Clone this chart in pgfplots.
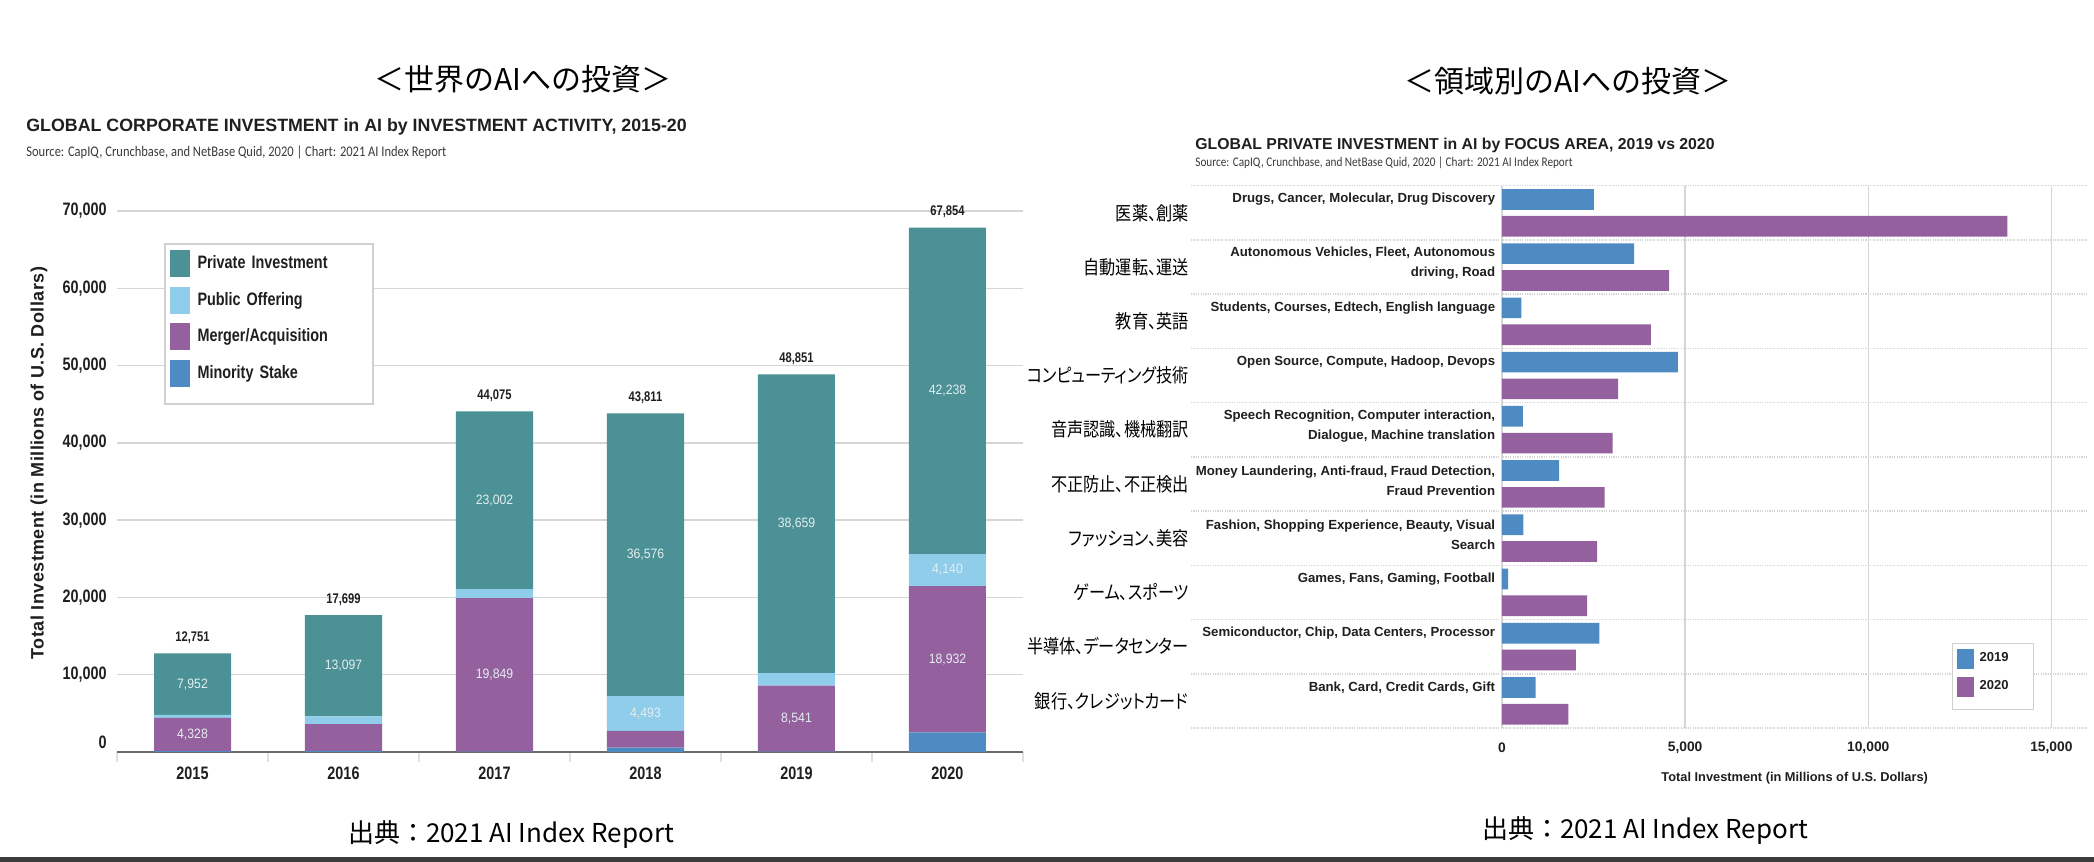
\documentclass[border=0pt]{standalone}
\usepackage{fontspec}
\usepackage{pgfplots}
\pgfplotsset{compat=1.18}

\setmainfont{Liberation Sans}
\newfontfamily\cond[FakeStretch=0.8]{Liberation Sans}
\newfontfamily\condi[FakeStretch=0.9]{Liberation Sans}
\newfontfamily\wide[LetterSpace=2.5]{Liberation Sans}
\newfontfamily\carl[FakeStretch=0.85]{Carlito}
\newfontfamily\jp{Noto Sans CJK JP}
\newfontfamily\jpc[RawFeature=+palt,FakeStretch=0.85]{Noto Sans CJK JP}
\newcommand{\fsz}[2]{\fontsize{#1}{#2}\selectfont}

\definecolor{privcol}{HTML}{4B9195}
\definecolor{pubcol}{HTML}{8FCDEA}
\definecolor{macol}{HTML}{94609E}
\definecolor{minocol}{HTML}{4F8BC3}
\definecolor{gridcol}{HTML}{D6D6D6}
\definecolor{basecol}{HTML}{6A6A6A}
\definecolor{sepcol}{HTML}{E0E0E0}
\definecolor{textcol}{HTML}{1F1F1F}
\definecolor{subcol}{HTML}{3A3A3A}
\definecolor{inlab}{HTML}{E4EEF0}
\definecolor{legbord}{HTML}{D0D0D0}
\definecolor{rulecol}{HTML}{3C3C3C}

\pgfplotsset{
  leftimg/.style={legend image code/.code={\fill[##1] (0pt,-6.75pt) rectangle (10pt,6.75pt);}},
  leftimglast/.style={legend image code/.code={\fill[##1] (0pt,-6.75pt) rectangle (10pt,6.75pt); \path (0pt,-11.9pt);}},
  rightimg/.style={legend image code/.code={\fill[##1] (0pt,-5pt) rectangle (8.5pt,5pt);}},
  rightimglast/.style={legend image code/.code={\fill[##1] (0pt,-5pt) rectangle (8.5pt,5pt); \path (0pt,-9pt);}},
}

\begin{document}
\begin{tikzpicture}
\useasboundingbox (0,0) rectangle (1047pt,431pt);
\fill[white] (0,0) rectangle (1047pt,431pt);

% left: corporate investment by activity
\begin{axis}[
  at={(58.5pt,55pt)}, anchor=south west,
  scale only axis, width=453pt, height=270.5pt,
  ybar stacked, bar width=38.5pt,
  xmin=-0.5, xmax=5.5, ymin=0, ymax=70000,
  axis line style={draw=none},
  tick pos=left, tick align=outside,
  xtick={0,...,5}, xticklabels={2015,2016,2017,2018,2019,2020},
  minor xtick={-0.5,0.5,...,5.5},
  major tick length=0pt, minor tick length=5pt,
  minor tick style={draw=sepcol, line width=0.6pt},
  ytick={10000,20000,...,70000},
  ymajorgrids, major grid style={draw=gridcol, line width=0.7pt},
  extra y ticks={0},
  extra y tick style={grid=major, major grid style={draw=basecol, line width=1.2pt}, yticklabel style={yshift=5pt}},
  scaled y ticks=false,
  /pgf/number format/assume math mode=true,
  /pgf/number format/1000 sep={,},
  tick label style={font=\cond\bfseries\fsz{9}{9}, text=textcol},
  yticklabel style={anchor=east, inner sep=0pt, xshift=-5pt},
  xticklabel style={anchor=center, inner sep=0pt, yshift=-10.5pt},
  legend style={at={(0.0519,0.941)}, anchor=north west, draw=legbord, line width=0.9pt,
    font=\cond\bfseries\fsz{9}{9}, text=textcol,
    inner xsep=2.3pt, inner ysep=3.1pt, row sep=4.85pt, column sep=4pt,
    nodes={inner sep=0pt, text width=85.5pt}},
  legend cell align=left, reverse legend,
  leftimg,
]
\addplot[fill=minocol, draw=none, leftimglast]
  coordinates {(0,100) (1,150) (2,60) (3,560) (4,51) (5,2544)};
\addplot[fill=macol, draw=none]
  coordinates {(0,4328) (1,3460) (2,19849) (3,2182) (4,8541) (5,18932)};
\addplot[fill=pubcol, draw=none]
  coordinates {(0,371) (1,992) (2,1164) (3,4493) (4,1600) (5,4140)};
\addplot[fill=privcol, draw=none]
  coordinates {(0,7952) (1,13097) (2,23002) (3,36576) (4,38659) (5,42238)};
\legend{Minority Stake, Merger/Acquisition, Public Offering, Private Investment}
\end{axis}

% left: value labels
\begin{axis}[
  at={(58.5pt,55pt)}, anchor=south west,
  scale only axis, width=453pt, height=270.5pt,
  xmin=-0.5, xmax=5.5, ymin=0, ymax=70000, hide axis, clip=false]
\addplot[only marks, mark=*, mark size=0pt, mark options={draw=none, fill=none},
  point meta=explicit symbolic, nodes near coords,
  every node near coord/.append style={anchor=center, font=\condi\fsz{6.8}{6.8}, text=inlab}]
  coordinates {(0,2264)[4,328] (0,8775)[7,952] (1,11150)[13,097] (2,9985)[19,849]
    (2,32574)[23,002] (3,4989)[4,493] (3,25523)[36,576] (4,4322)[8,541]
    (4,29522)[38,659] (5,12010)[18,932] (5,23546)[4,140] (5,46735)[42,238]};
\addplot[only marks, mark=*, mark size=0pt, mark options={draw=none, fill=none},
  point meta=explicit symbolic, nodes near coords,
  every node near coord/.append style={anchor=center, yshift=7.8pt, font=\cond\bfseries\fsz{7}{7}, text=textcol}]
  coordinates {(0,12751)[12,751] (1,17699)[17,699] (2,44075)[44,075]
    (3,43811)[43,811] (4,48851)[48,851] (5,67854)[67,854]};
\end{axis}

% right: private investment by focus area
\begin{axis}[
  at={(595.5pt,67pt)}, anchor=south west,
  scale only axis, width=448.5pt, height=271.15pt,
  xbar, bar width=10.35pt, bar shift=0pt,
  xmin=-8490, xmax=16000, ymin=-0.5, ymax=9.5,
  axis line style={draw=none},
  tick pos=left, major tick length=0pt, minor tick length=0pt,
  xtick={0,5000,10000,15000}, scaled x ticks=false,
  /pgf/number format/assume math mode=true,
  /pgf/number format/1000 sep={,},
  xmajorgrids, x grid style={draw=gridcol, line width=0.7pt},
  ytick={0,...,9},
  yticklabels={銀行、クレジットカード, 半導体、データセンター, ゲーム、スポーツ, ファッション、美容,
    不正防止、不正検出, 音声認識、機械翻訳, コンピューティング技術, 教育、英語, 自動運転、運送, 医薬、創薬},
  minor ytick={-0.5,0.5,...,9.5}, yminorgrids,
  y grid style={draw=gridcol, dash pattern=on 0.6pt off 0.6pt, line width=0.8pt},
  xticklabel style={font=\bfseries\fsz{6.9}{6.9}, text=textcol, anchor=center, inner sep=0pt, yshift=-10pt},
  yticklabel style={font=\jpc\fsz{9.5}{9.5}, text=black, anchor=east, inner sep=0pt, xshift=-1pt},
  extra y ticks={9.25,8.065,7.25,6.25,5.065,4.065,3.065,2.25,1.25,0.25},
  extra y tick labels={{Drugs, Cancer, Molecular, Drug Discovery},
    {Autonomous Vehicles, Fleet, Autonomous\\driving, Road},
    {Students, Courses, Edtech, English language},
    {Open Source, Compute, Hadoop, Devops},
    {Speech Recognition, Computer interaction,\\Dialogue, Machine translation},
    {Money Laundering, Anti-fraud, Fraud Detection,\\Fraud Prevention},
    {Fashion, Shopping Experience, Beauty, Visual\\Search},
    {Games, Fans, Gaming, Football},
    {Semiconductor, Chip, Data Centers, Processor},
    {Bank, Card, Credit Cards, Gift}},
  extra y tick style={grid=none, yticklabel style={font=\bfseries\fsz{6.6}{10}, text=textcol, align=right, xshift=153.25pt}},
  xlabel={Total Investment (in Millions of U.S. Dollars)},
  xlabel style={at={(axis description cs:0.673,-0.092)}, anchor=center, font=\bfseries\fsz{6.4}{6.4}, text=textcol},
  legend style={at={(0.8484,0.1567)}, anchor=north west, draw=legbord, line width=0.7pt,
    font=\bfseries\fsz{6.5}{6.5}, text=textcol,
    inner xsep=2pt, inner ysep=2.5pt, row sep=4pt, column sep=3pt,
    nodes={inner sep=0pt, text width=25pt}},
  legend cell align=left,
  rightimg,
]
\addplot[fill=minocol, draw=none]
  coordinates {(2509,9.247) (3608,8.247) (531,7.247) (4799,6.247) (568,5.247)
    (1557,4.247) (586,3.247) (165,2.247) (2656,1.247) (916,0.247)};
\addplot[fill=macol, draw=none, rightimglast]
  coordinates {(13800,8.753) (4560,7.753) (4066,6.753) (3168,5.753) (3022,4.753)
    (2802,3.753) (2601,2.753) (2326,1.753) (2015,0.753) (1813,-0.247)};
\legend{2019, 2020}
\end{axis}

% titles, notes and rule, in pixel units of the reference
\begin{scope}[x=0.5pt, y=-0.5pt, yshift=431pt]
\node[font=\jp\fsz{15}{15}, text=black] at (523,79) {＜世界のAIへの投資＞};
\node[font=\jp\fsz{15}{15}, text=black] at (1568,81) {＜領域別のAIへの投資＞};
\node[anchor=base west, inner sep=0pt, font=\bfseries\fsz{8.9}{8.9}, text=textcol] at (26,132)
  {GLOBAL CORPORATE INVESTMENT in AI by INVESTMENT ACTIVITY, 2015-20};
\node[anchor=base west, inner sep=0pt, font=\carl\fsz{7.35}{7.35}, text=subcol] at (26,157)
  {Source: CapIQ, Crunchbase, and NetBase Quid, 2020 | Chart: 2021 AI Index Report};
\node[anchor=base west, inner sep=0pt, font=\bfseries\fsz{7.9}{7.9}, text=textcol] at (1195,150)
  {GLOBAL PRIVATE INVESTMENT in AI by FOCUS AREA, 2019 vs 2020};
\node[anchor=base west, inner sep=0pt, font=\carl\fsz{6.6}{6.6}, text=subcol] at (1195,167)
  {Source: CapIQ, Crunchbase, and NetBase Quid, 2020 | Chart: 2021 AI Index Report};
\node[rotate=90, font=\wide\bfseries\fsz{9}{9}, text=textcol] at (39,463)
  {Total Investment (in Millions of U.S. Dollars)};
\node[font=\jp\fsz{13}{13}, text=black] at (511,835) {出典：2021 AI Index Report};
\node[font=\jp\fsz{13}{13}, text=black] at (1645,831) {出典：2021 AI Index Report};
\fill[rulecol] (0,857) rectangle (2094,862);
\end{scope}
\end{tikzpicture}
\end{document}
